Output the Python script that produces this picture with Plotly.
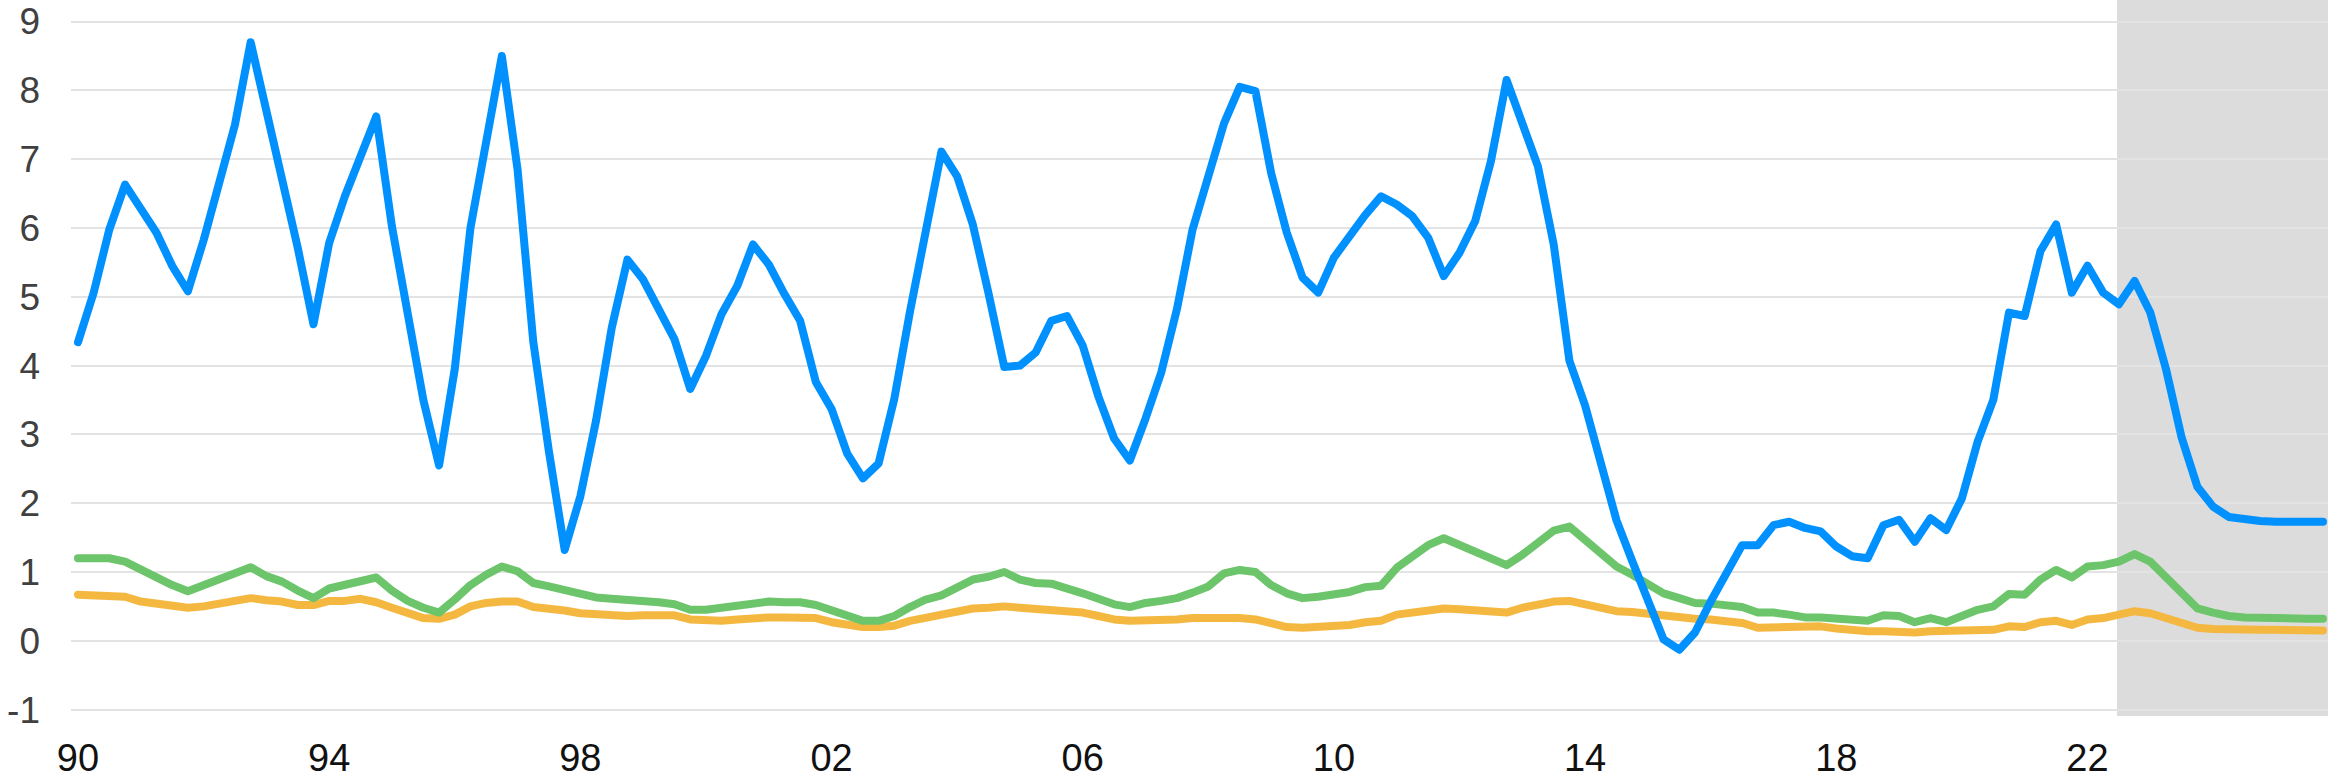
import plotly.graph_objects as go

# Quarterly data, 1990Q1 .. 2025Q4
start_year = 1990
blue = [4.34, 5.06, 5.98, 6.63, 6.28, 5.93, 5.45, 5.08, 5.82, 6.70, 7.50, 8.70,
        7.71, 6.75, 5.71, 4.60, 5.78, 6.46, 7.06, 7.62, 6.02, 4.72, 3.50, 2.55,
        3.95, 6.00, 7.33, 8.50, 6.85, 4.35, 2.75, 1.32, 2.10, 3.20, 4.55, 5.54,
        5.25, 4.82, 4.38, 3.66, 4.14, 4.75, 5.16, 5.76, 5.47, 5.04, 4.65, 3.76,
        3.37, 2.72, 2.36, 2.58, 3.52, 4.79, 5.98, 7.11, 6.75, 6.05, 5.05, 3.98,
        4.00, 4.19, 4.65, 4.72, 4.29, 3.55, 2.94, 2.62, 3.23, 3.90, 4.82, 5.98,
        6.75, 7.52, 8.05, 7.99, 6.80, 5.93, 5.28, 5.06, 5.57, 5.90, 6.19, 6.46,
        6.34, 6.17, 5.86, 5.30, 5.64, 6.10, 6.97, 8.15, 7.50, 6.89, 5.76, 4.07,
        3.42, 2.62, 1.75, 1.16, 0.58, 0.02, -0.13, 0.12, 0.57, 0.97, 1.39, 1.39,
        1.68, 1.73, 1.64, 1.59, 1.37, 1.23, 1.20, 1.68, 1.76, 1.44, 1.78, 1.61,
        2.07, 2.89, 3.50, 4.77, 4.72, 5.66, 6.05, 5.06, 5.45, 5.06, 4.89, 5.23,
        4.77, 3.95, 2.95, 2.24, 1.95, 1.80, 1.76, 1.74, 1.73, 1.73, 1.73, 1.73]

green = [1.20, 1.20, 1.20, 1.15, 1.03, 0.92, 0.81, 0.72, 0.81, 0.89, 0.98, 1.07,
         0.94, 0.86, 0.73, 0.62, 0.76, 0.82, 0.89, 0.92, 0.73, 0.58, 0.48, 0.41,
         0.60, 0.81, 0.96, 1.08, 1.01, 0.84, 0.79, 0.73, 0.66, 0.63, 0.61, 0.60,
         0.58, 0.56, 0.53, 0.45, 0.45, 0.48, 0.50, 0.55, 0.57, 0.56, 0.56, 0.52,
         0.44, 0.36, 0.29, 0.29, 0.36, 0.49, 0.60, 0.66, 0.79, 0.89, 0.93, 1.00,
         0.89, 0.84, 0.83, 0.77, 0.69, 0.61, 0.53, 0.49, 0.55, 0.58, 0.62, 0.70,
         0.79, 0.98, 1.03, 1.00, 0.81, 0.69, 0.62, 0.64, 0.67, 0.71, 0.78, 0.80,
         1.06, 1.23, 1.39, 1.49, 1.39, 1.32, 1.21, 1.10, 1.25, 1.42, 1.60, 1.66,
         1.47, 1.30, 1.08, 0.96, 0.84, 0.69, 0.62, 0.55, 0.54, 0.52, 0.49, 0.41,
         0.41, 0.38, 0.34, 0.34, 0.32, 0.30, 0.29, 0.37, 0.36, 0.27, 0.33, 0.27,
         0.36, 0.45, 0.50, 0.68, 0.67, 0.89, 1.03, 0.92, 1.08, 1.10, 1.15, 1.26,
         1.15, 0.91, 0.67, 0.47, 0.41, 0.36, 0.34, 0.33, 0.33, 0.32, 0.32, 0.32]

orange = [0.67, 0.66, 0.66, 0.64, 0.57, 0.54, 0.49, 0.48, 0.50, 0.54, 0.60, 0.62,
          0.59, 0.57, 0.52, 0.52, 0.58, 0.58, 0.61, 0.56, 0.48, 0.39, 0.33, 0.32,
          0.38, 0.50, 0.55, 0.57, 0.57, 0.49, 0.47, 0.44, 0.40, 0.38, 0.36, 0.36,
          0.37, 0.37, 0.37, 0.31, 0.29, 0.29, 0.31, 0.33, 0.34, 0.34, 0.34, 0.33,
          0.27, 0.24, 0.20, 0.20, 0.22, 0.29, 0.33, 0.37, 0.43, 0.47, 0.48, 0.50,
          0.48, 0.46, 0.46, 0.44, 0.41, 0.36, 0.31, 0.29, 0.29, 0.29, 0.31, 0.33,
          0.33, 0.34, 0.33, 0.31, 0.26, 0.20, 0.19, 0.20, 0.21, 0.23, 0.27, 0.29,
          0.38, 0.41, 0.44, 0.47, 0.46, 0.45, 0.44, 0.41, 0.48, 0.53, 0.57, 0.58,
          0.53, 0.49, 0.43, 0.42, 0.39, 0.36, 0.34, 0.32, 0.31, 0.29, 0.26, 0.19,
          0.20, 0.20, 0.20, 0.21, 0.18, 0.15, 0.14, 0.14, 0.13, 0.12, 0.14, 0.14,
          0.15, 0.16, 0.16, 0.21, 0.20, 0.27, 0.29, 0.23, 0.31, 0.33, 0.37, 0.43,
          0.40, 0.33, 0.27, 0.19, 0.17, 0.16, 0.16, 0.16, 0.16, 0.15, 0.15, 0.15]

tick_years = [1990, 1994, 1998, 2002, 2006, 2010, 2014, 2018, 2022]
tick_labels = ["90", "94", "98", "02", "06", "10", "14", "18", "22"]
y_ticks = [-1, 0, 1, 2, 3, 4, 5, 6, 7, 8, 9]
y_tick_labels = ["-1", "0", "1", "2", "3", "4", "5", "6", "7", "8", "9"]
forecast_start = 2022.47

x = [start_year + i / 4 for i in range(len(blue))]

fig = go.Figure()
fig.add_trace(go.Scatter(x=x, y=orange, mode="lines",
                         line=dict(color="#F4B840", width=8)))
fig.add_trace(go.Scatter(x=x, y=green, mode="lines",
                         line=dict(color="#6CC56A", width=8)))
fig.add_trace(go.Scatter(x=x, y=blue, mode="lines",
                         line=dict(color="#0091FF", width=8)))

fig.add_shape(type="rect", xref="x", yref="paper",
              x0=forecast_start, x1=2025.83, y0=0, y1=1,
              fillcolor="#DCDCDC", line=dict(width=0), layer="below")

font_family = "Liberation Sans, Arial, sans-serif"
fig.update_layout(
    width=2330, height=779,
    margin=dict(l=71, r=2, t=0, b=60),
    paper_bgcolor="white", plot_bgcolor="white",
    showlegend=False,
    font=dict(family=font_family),
)
fig.update_xaxes(
    range=[1989.889, 2025.83],
    tickvals=tick_years, ticktext=tick_labels,
    showgrid=False, zeroline=False, showline=False,
    tickfont=dict(size=38, color="#111111", family=font_family),
    ticks="", ticklabelstandoff=16,
)
fig.update_yaxes(
    range=[-1.093, 9.313],
    tickvals=y_ticks, ticktext=y_tick_labels,
    showgrid=True, gridcolor="#E3E3E3", gridwidth=2,
    zeroline=False, showline=False,
    tickfont=dict(size=37, color="#404040", family=font_family),
    ticks="", ticklabelstandoff=30,
)

post = """
document.body.style.margin = '0';
document.body.style.overflow = 'hidden';
document.querySelectorAll('.scatterlayer path.js-line').forEach(function (p) {
  p.style.strokeLinejoin = 'round';
  p.style.strokeLinecap = 'round';
});
"""

fig.write_html("out.html", post_script=post,
               config={"displayModeBar": False, "staticPlot": True})
